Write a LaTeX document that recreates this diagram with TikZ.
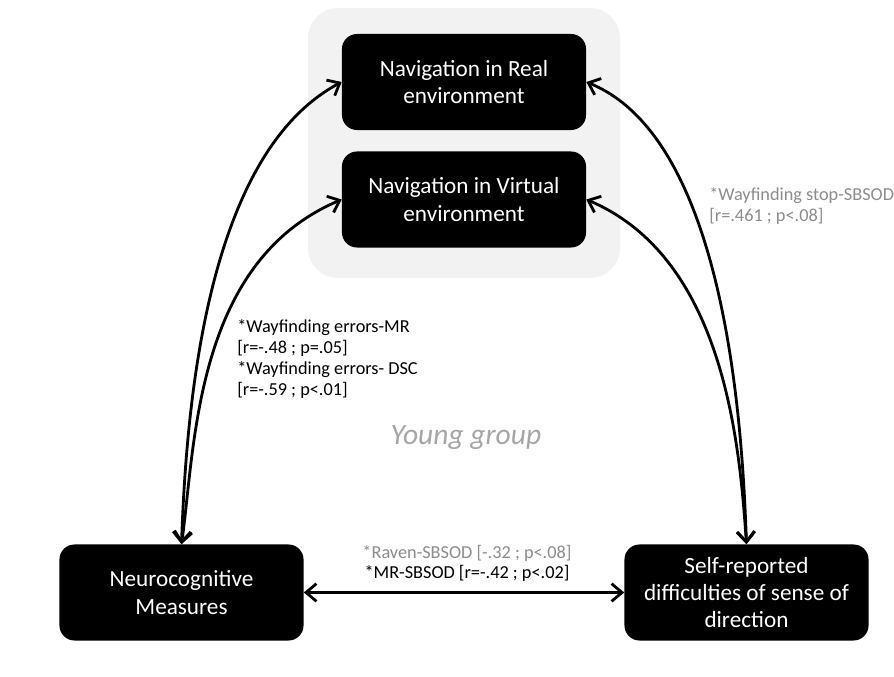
\documentclass[tikz,border=0pt]{standalone}
\usepackage{fontspec}
\setmainfont{Carlito}
\usepackage{xcolor}
\usepackage{tikz}
\usetikzlibrary{arrows.meta}

\definecolor{panelgray}{RGB}{242,242,242}
\definecolor{notegray}{RGB}{140,140,140}
\definecolor{titlegray}{RGB}{166,166,166}

\begin{document}
\begin{tikzpicture}[x=0.025cm,y=0.025cm,
    navbox/.style={fill=black,text=white,rounded corners=0.375cm,align=center,
        minimum width=6.1cm,minimum height=2.4cm,inner sep=0pt,
        font=\fontsize{16.5}{19.4}\selectfont},
    note/.style={align=left,inner sep=0pt,font=\fontsize{13}{14.9}\selectfont},
    link/.style={line width=2pt,{Straight Barb[length=2.6mm,width=4.4mm]}-{Straight Barb[length=2.6mm,width=4.4mm]}}]
    \useasboundingbox (0,0) rectangle (894,677);

    \fill[panelgray,rounded corners=0.75cm] (308,399) rectangle (620,669);

    \node[navbox] (real)    at (464,595)   {Navigation in Real\\environment};
    \node[navbox] (virtual) at (464,477.5) {Navigation in Virtual\\environment};
    \node[navbox] (neuro)   at (181.5,84.5) {Neurocognitive\\Measures};
    \node[navbox] (self)    at (746.5,84.5) {Self-reported\\difficulties of sense of\\direction};

    \draw[link] (neuro.north) to[out=88,in=208,out distance=3.75cm,in distance=3.75cm] (real.west);
    \draw[link] (neuro.north) to[out=82,in=203,out distance=2.5cm,in distance=4cm] (virtual.west);
    \draw[link] (self.north) to[out=92,in=338,out distance=3cm,in distance=3.75cm] (real.east);
    \draw[link] (self.north) to[out=94,in=337,out distance=2.5cm,in distance=3.75cm] (virtual.east);
    \draw[link] (neuro.east) -- (self.west);

    \node[note,anchor=west] (errnote) at (237,318)
        {*Wayfinding errors-MR\\{[r=-.48 ; p=.05]}\\*Wayfinding errors- DSC\\{[r=-.59 ; p<.01]}};
    \node[note,anchor=west,text=notegray] (stopnote) at (709,471)
        {*Wayfinding stop-SBSOD\\{[r=.461 ; p<.08]}};
    \node[note,text=notegray] (ravennote) at (467,124) {*Raven-SBSOD [-.32 ; p<.08]};
    \node[note] (mrnote) at (467,104) {*MR-SBSOD [r=-.42 ; p<.02]};

    \node[text=titlegray,font=\fontsize{21}{24}\selectfont\itshape] (group) at (466,239) {Young group};
\end{tikzpicture}
\end{document}
